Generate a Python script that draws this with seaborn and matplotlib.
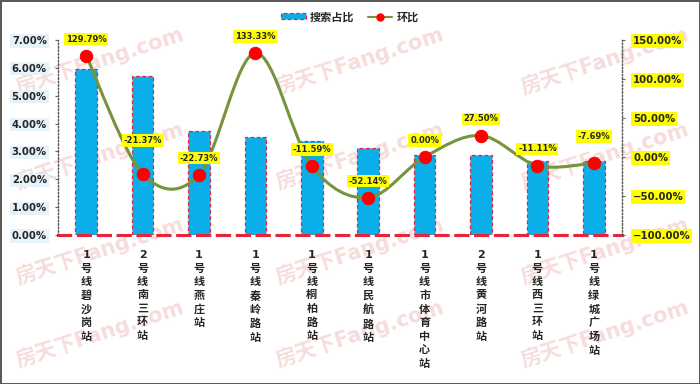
import numpy as np
import pandas as pd
import matplotlib
matplotlib.use("Agg")
import matplotlib.pyplot as plt
import seaborn as sns
from matplotlib.path import Path
from matplotlib.patches import PathPatch, Patch
from matplotlib.lines import Line2D
from matplotlib.ticker import PercentFormatter, FixedLocator

stations = [
    "1号线碧沙岗站", "2号线南三环站", "1号线燕庄站", "1号线秦岭路站", "1号线桐柏路站",
    "1号线民航路站", "1号线市体育中心站", "2号线黄河路站", "1号线西三环站", "1号线绿城广场站",
]
search_share = [5.97, 5.70, 3.75, 3.51, 3.37, 3.11, 2.87, 2.86, 2.67, 2.67]
mom_change = [129.79, -21.37, -22.73, 133.33, -11.59, -52.14, 0.00, 27.50, -11.11, -7.69]
left_ticks = [0, 1, 2, 3, 4, 5, 6, 7]
right_ticks = [-100, -50, 0, 50, 100, 150]

BAR_BLUE = "#0AAEE8"
EDGE_RED = "#E8243C"
LINE_GREEN = "#77933C"
DOT_RED = "#FF0000"

df = pd.DataFrame({"station": stations, "share": search_share, "mom": mom_change})

sns.set_theme(style="white")
plt.rcParams["font.family"] = ["DejaVu Sans", "Noto Sans CJK SC"]
plt.rcParams["font.weight"] = "bold"

fig = plt.figure(figsize=(7, 3.84), dpi=100, linewidth=2, edgecolor="#5a5a5a")
ax = fig.add_axes([58 / 700, (384 - 235) / 384, (622 - 58) / 700, (235 - 40) / 384])
ax.patch.set_visible(False)

# faint watermark tiles
for wx in [100, 360, 605]:
    for wy in [60, 155, 250, 333]:
        fig.text(wx / 700, 1 - wy / 384, "房天下Fang.com", fontsize=15, color="#f7dcdc",
                 rotation=18, ha="center", va="center", zorder=-5)

sns.barplot(data=df, x="station", y="share", ax=ax, color=BAR_BLUE, saturation=1,
            width=0.38, edgecolor=EDGE_RED, linewidth=0.9, linestyle=(0, (3, 2)))

ax.set_ylim(0, 7)
ax.set_xlim(-0.5, len(stations) - 0.5)
ax.set_yticks(left_ticks)
ax.yaxis.set_major_formatter(PercentFormatter(100, decimals=2))
ax.set_xlabel("")
ax.set_ylabel("")
ax.set_xticks(range(len(stations)))
ax.set_xticklabels(["\n".join(s) for s in stations], fontsize=8, fontweight="bold",
                   linespacing=1.42, va="top")
ax.tick_params(axis="x", length=0, pad=11)
ax.xaxis.set_minor_locator(FixedLocator(np.arange(-0.5, len(stations), 1.0)))
ax.tick_params(axis="x", which="minor", length=4, width=1.6, color=EDGE_RED, direction="out")
ax.tick_params(axis="y", length=2, width=0.8, color="#666666", direction="out", pad=6,
               labelsize=7.3)
for lbl in ax.get_yticklabels():
    lbl.set_fontweight("bold")
    lbl.set_bbox(dict(facecolor="#e6f2fa", edgecolor="none", pad=1.2))

for side in ["top", "right"]:
    ax.spines[side].set_visible(False)
ax.spines["left"].set_linestyle((0, (1, 1.5)))
ax.spines["left"].set_color("#555555")
ax.spines["left"].set_linewidth(1)
ax.spines["bottom"].set_color(EDGE_RED)
ax.spines["bottom"].set_linewidth(2.2)
ax.spines["bottom"].set_linestyle((0, (4, 2.5)))
ax.spines["bottom"].set_zorder(5)

ax2 = ax.twinx()
ax2.set_ylim(-100, 150)
ax2.set_yticks(right_ticks)
ax2.yaxis.set_major_formatter(PercentFormatter(100, decimals=2))

# smoothed line (cubic bezier through each point, like Excel's smoothed line)
xs = np.arange(len(mom_change), dtype=float)
ys = np.asarray(mom_change, dtype=float)
px = np.concatenate([[xs[0]], xs, [xs[-1]]])
py = np.concatenate([[ys[0]], ys, [ys[-1]]])
verts = [(xs[0], ys[0])]
codes = [Path.MOVETO]
for i in range(len(xs) - 1):
    c1 = (xs[i] + (px[i + 2] - px[i]) / 6, ys[i] + (py[i + 2] - py[i]) / 6)
    c2 = (xs[i + 1] - (px[i + 3] - px[i + 1]) / 6, ys[i + 1] - (py[i + 3] - py[i + 1]) / 6)
    verts += [c1, c2, (xs[i + 1], ys[i + 1])]
    codes += [Path.CURVE4] * 3
ax2.add_patch(PathPatch(Path(verts, codes), facecolor="none", edgecolor=LINE_GREEN,
                        linewidth=2.2, zorder=3))

sns.scatterplot(data=df, x="station", y="mom", ax=ax2, color=DOT_RED, s=80,
                edgecolor=DOT_RED, zorder=4, legend=False)
ax2.set_xlim(-0.5, len(stations) - 0.5)
ax2.set_ylabel("")
ax2.set_xlabel("")

label_offsets = [12, 24, 12, 12, 12, 12, 12, 12, 12, 19]
for i, v in enumerate(mom_change):
    ax2.annotate(f"{v:.2f}%", (i, v), xytext=(0, label_offsets[i]), textcoords="offset points",
                 ha="center", va="center", fontsize=6, fontweight="bold",
                 bbox=dict(facecolor="#FFFF00", edgecolor="none", pad=1.2), zorder=6)

ax2.tick_params(axis="y", length=2, width=0.8, color="#666666", direction="out", pad=6,
                labelsize=7.3)
for lbl in ax2.get_yticklabels():
    lbl.set_fontweight("bold")
    lbl.set_bbox(dict(facecolor="#FFFF00", edgecolor="none", pad=1.2))
for side in ["top", "left", "bottom"]:
    ax2.spines[side].set_visible(False)
ax2.spines["right"].set_linestyle((0, (1, 1.5)))
ax2.spines["right"].set_color("#555555")
ax2.spines["right"].set_linewidth(1)

handles = [
    Patch(facecolor=BAR_BLUE, edgecolor=EDGE_RED, linestyle=(0, (3, 2)), linewidth=0.9),
    Line2D([], [], color=LINE_GREEN, linewidth=1.5, marker="o", markersize=5,
           markerfacecolor=DOT_RED, markeredgecolor=DOT_RED),
]
fig.legend(handles, ["搜索占比", "环比"], loc="center", bbox_to_anchor=(0.5, 1 - 17 / 384),
           ncol=2, frameon=False, prop={"size": 8, "weight": "bold"},
           handlelength=2.2, handleheight=0.45, columnspacing=1.2, handletextpad=0.4)

fig.savefig("out.png", dpi=100)
